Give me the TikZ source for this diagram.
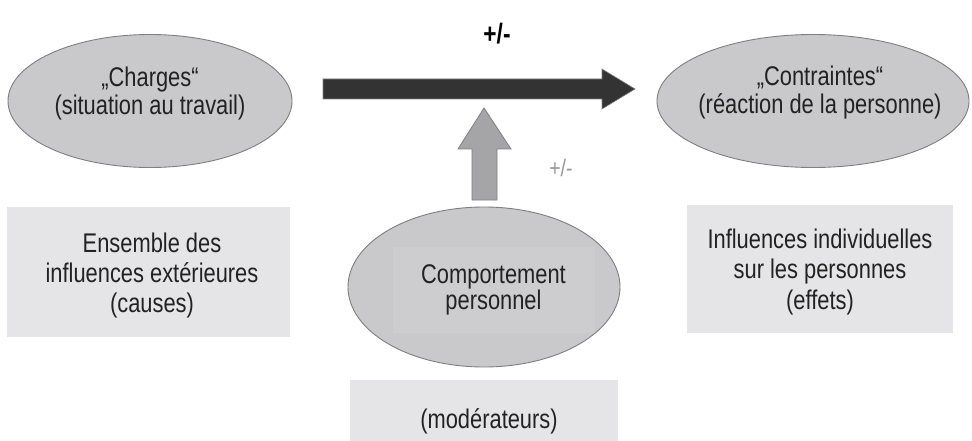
\documentclass[tikz,border=0pt]{standalone}
\usepackage{fontspec}
\setmainfont{Liberation Sans}[FakeStretch=0.81]
\usetikzlibrary{shapes.geometric,calc}
\definecolor{ellfill}{HTML}{C9C9CB}
\definecolor{ellline}{HTML}{7F7F7F}
\definecolor{boxfill}{HTML}{E5E5E7}
\definecolor{txt}{HTML}{222222}
\definecolor{darkarrow}{HTML}{333333}
\definecolor{midarrow}{HTML}{A5A5A8}
\tikzset{
  oval/.style={ellipse, draw=ellline, fill=ellfill, line width=0.9pt, inner sep=0pt},
  greybox/.style={rectangle, fill=boxfill, inner sep=0pt},
  label text/.style={align=center, text=txt, font=\fontsize{27}{30}\selectfont, inner sep=0pt},
}
\begin{document}
\begin{tikzpicture}[x=1pt,y=-1pt]
\useasboundingbox (0,0) rectangle (972,441);
% boxes
\node[greybox, minimum width=283pt, minimum height=130pt] (leftbox) at (148.5,272) {};
\node[greybox, minimum width=266pt, minimum height=128pt] (rightbox) at (820,269) {};
\node[greybox, minimum width=268pt, minimum height=61pt, anchor=north] (modbox) at (484,380) {};
% ellipses
\node[oval, minimum width=284pt, minimum height=133pt] (charges) at (150,101) {};
\node[oval, minimum width=312pt, minimum height=133pt] (contraintes) at (813,101) {};
% vertical arrow
\coordinate (vbase) at (484,200);
\coordinate (vtip) at (484,108);
\fill[midarrow, draw=ellline, line width=0.8pt, line join=miter]
  ($(vbase)+(-12,0)$) -- ($(vbase)+(-12,-51)$) -- ($(vbase)+(-26,-51)$) -- (vtip)
  -- ($(vbase)+(27,-51)$) -- ($(vbase)+(13,-51)$) -- ($(vbase)+(13,0)$) -- cycle;
\node[oval, minimum width=272pt, minimum height=160pt] (comport) at (484,287) {};
\node[rectangle, fill=ellfill!93!white, minimum width=202pt, minimum height=86pt, inner sep=0pt] (comportinner) at (494,290) {};
% big arrow
\coordinate (hstart) at (323,89);
\coordinate (htip) at (635,89);
\fill[darkarrow, draw=ellline, line width=0.6pt, line join=miter]
  ($(hstart)+(0,-10)$) -- ($(htip)+(-33,-10)$) -- ($(htip)+(-33,-20)$) -- (htip)
  -- ($(htip)+(-33,20)$) -- ($(htip)+(-33,10)$) -- ($(hstart)+(0,10)$) -- cycle;
% texts
\node[label text, font=\fontsize{27}{28}\selectfont] (chargestxt) at (150,94) {„Charges“\\(situation au travail)};
\node[label text, font=\fontsize{27}{28}\selectfont] (contrtxt) at (820,93) {„Contraintes“\\(réaction de la personne)};
\node[label text] (lefttxt) at (152,276) {Ensemble des\\influences extérieures\\(causes)};
\node[label text, font=\fontsize{27}{30.5}\selectfont] (righttxt) at (820,272) {Influences individuelles\\sur les personnes\\(effets)};
\node[label text, font=\fontsize{27}{26}\selectfont] (comporttxt) at (493.5,290) {Comportement\\personnel};
\node[label text] (modtxt) at (489,421) {(modérateurs)};
\node[text=black, font=\fontsize{28}{28}\selectfont\bfseries, inner sep=0pt] (pmtop) at (497,34) {+/-};
\node[text=black!40, font=\fontsize{24}{24}\selectfont, inner sep=0pt] (pmside) at (561,168) {+/-};
\end{tikzpicture}
\end{document}
